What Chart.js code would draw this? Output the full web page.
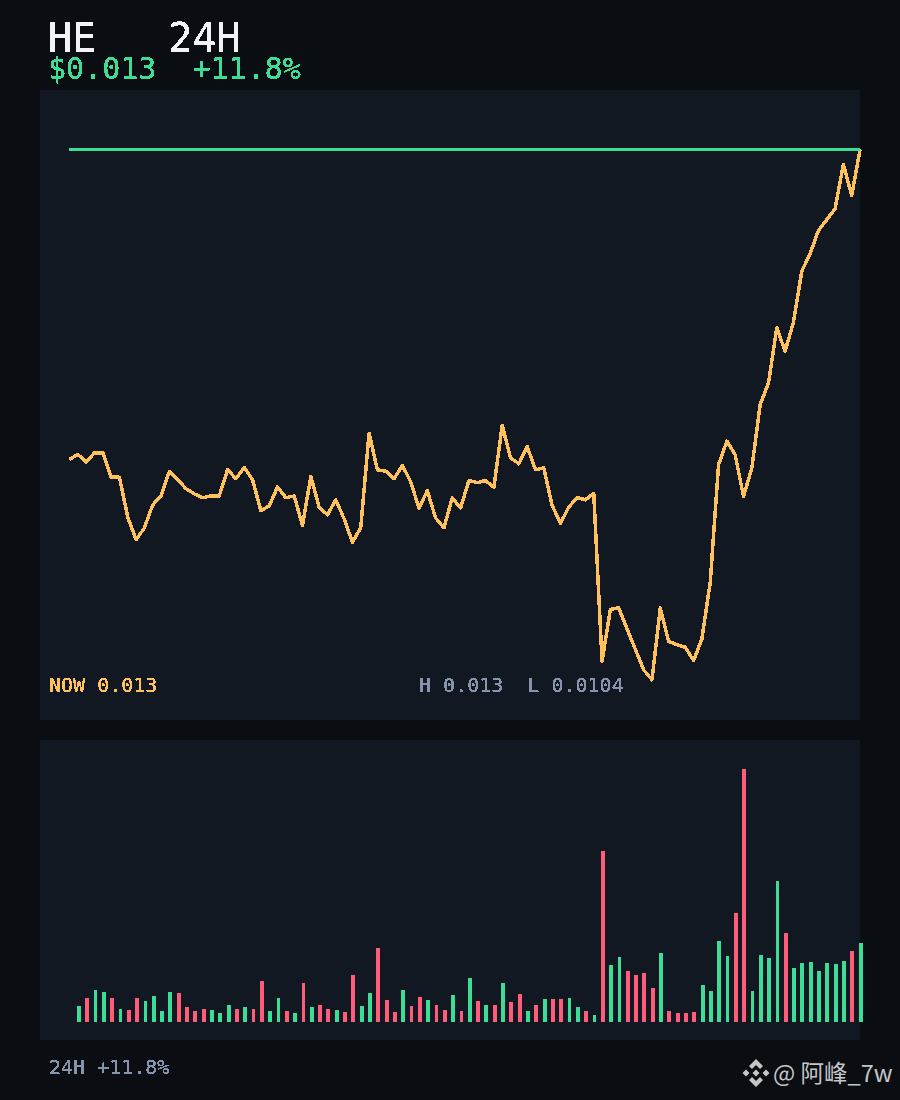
<!DOCTYPE html>
<html>
<head>
<meta charset="utf-8">
<title>HE 24H</title>
<script src="https://cdn.jsdelivr.net/npm/chart.js@4"></script>
<style>
    html, body { margin: 0; padding: 0; background: #0a0d12; }
    #page { position: relative; width: 900px; height: 1100px; overflow: hidden; background: #0a0d12; }
    .panel { position: absolute; left: 40px; width: 820px; background: #111822; }
    .wrap { position: absolute; left: 40px; width: 830px; }
    .txt { position: absolute; margin: 0; white-space: pre; font-family: "DejaVu Sans Mono", monospace; filter: url(#crispBold); }
    #watermark { position: absolute; left: 773px; top: 1055px; font: 23.500px "Noto Sans CJK SC", "Noto Sans", sans-serif; color: #c4c6c8; white-space: pre; }
</style>
</head>
<body>
<svg width="0" height="0" style="position:absolute">
    <filter id="crisp" color-interpolation-filters="sRGB" x="0" y="0" width="100%" height="100%">
        <feComponentTransfer><feFuncA type="discrete" tableValues="0 1"/></feComponentTransfer>
    </filter>
    <filter id="crispBold" color-interpolation-filters="sRGB" x="0" y="0" width="100%" height="100%">
        <feComponentTransfer><feFuncA type="discrete" tableValues="0 1 1 1"/></feComponentTransfer>
    </filter>
</svg>
<div id="page">
    <div class="txt" style="left:48px;top:15px;font-size:40px;line-height:47px;color:#f1f3f7">HE   24H</div>
    <div class="txt" style="left:48px;top:51px;font-size:30px;line-height:35px;color:#3ddc97">$0.013  +11.8%</div>

    <div class="panel" style="top:90px;height:630px"></div>
    <div class="panel" style="top:740px;height:300px"></div>

    <div class="wrap" style="top:90px;height:630px;filter:url(#crispBold)"><canvas id="priceChart"></canvas></div>
    <div class="wrap" style="top:740px;height:300px;filter:url(#crisp)"><canvas id="volumeChart"></canvas></div>

    <div class="txt" style="left:49px;top:673px;font-size:20px;line-height:24px;color:#ffc15e">NOW 0.013</div>
    <div class="txt" style="left:419px;top:673px;font-size:20px;line-height:24px;color:#8694ad">H 0.013  L 0.0104</div>
    <div class="txt" style="left:49px;top:1055px;font-size:20px;line-height:24px;color:#8694ad">24H +11.8%</div>

    <svg style="position:absolute;left:742px;top:1059px" width="28" height="28" viewBox="0 0 28 28" fill="#c4c6c8">
        <path d="M14 0l7 7-3 3-4-4-4 4-3-3zM14 28l7-7-3-3-4 4-4-4-3 3zM4 10.500l3.500 3.500L4 17.500.5 14zM24 10.500l3.500 3.500-3.500 3.500-3.500-3.500zM14 10.500l3.500 3.500-3.500 3.500-3.500-3.500z"/>
    </svg>
    <div id="watermark">@ 阿峰_7w</div>
</div>

<script>
// =============================
// DATA (15 min candles)
// =============================
const high = 0.013;
const low = 0.0104;

const prices = [
    0.011482, 0.011508, 0.011469, 0.011515, 0.011515, 0.011395, 0.011395, 0.011200,
    0.011089, 0.011148, 0.011260, 0.011304, 0.011423, 0.011384, 0.011339, 0.011314,
    0.011295, 0.011304, 0.011304, 0.011433, 0.011388, 0.011443, 0.011383, 0.011231,
    0.011255, 0.011348, 0.011295, 0.011304, 0.011159, 0.011399, 0.011249, 0.011211,
    0.011285, 0.011192, 0.011077, 0.011148, 0.011611, 0.011432, 0.011425, 0.011388,
    0.011453, 0.011374, 0.011244, 0.011330, 0.011195, 0.011148, 0.011295, 0.011244,
    0.011379, 0.011369, 0.011379, 0.011346, 0.011649, 0.011490, 0.011461, 0.011546,
    0.011432, 0.011441, 0.011257, 0.011170, 0.011249, 0.011295, 0.011285, 0.011317,
    0.010495, 0.010748, 0.010756, 0.010653, 0.010553, 0.010452, 0.010403, 0.010756,
    0.010592, 0.010576, 0.010563, 0.010498, 0.010604, 0.010881, 0.011456, 0.011572,
    0.011505, 0.011301, 0.011440, 0.011751, 0.011856, 0.012127, 0.012012, 0.012154,
    0.012404, 0.012489, 0.012603, 0.012656, 0.012710, 0.012927, 0.012775, 0.013000
];

const volumes = [
    0, 16, 24, 32, 30, 24, 13, 12,
    24, 21, 26, 11, 30, 29, 15, 11,
    13, 12, 9, 17, 13, 15, 13, 41,
    11, 24, 11, 9, 39, 15, 17, 13,
    12, 10, 47, 16, 29, 74, 22, 10,
    32, 16, 25, 22, 17, 12, 27, 11,
    44, 21, 17, 17, 39, 20, 28, 11,
    17, 23, 23, 23, 24, 15, 11, 7,
    171, 57, 65, 51, 47, 49, 34, 69,
    11, 9, 9, 10, 37, 31, 81, 66,
    109, 253, 31, 67, 64, 141, 89, 54,
    59, 60, 51, 59, 58, 61, 71, 79
];

const GREEN = "#3ddc97";
const RED = "#ff5c7a";
const ORANGE = "#ffc15e";

// =============================
// SHARED OPTIONS
// =============================
const hiddenAxis = { display: false, grid: { display: false } };

function commonOptions(padding, yMin, yMax) {
    return {
        responsive: true,
        maintainAspectRatio: false,
        animation: false,
        layout: { padding },
        plugins: { legend: { display: false }, tooltip: { enabled: false } },
        scales: {
            x: { ...hiddenAxis, type: "linear", min: 0, max: prices.length - 1, offset: false },
            y: { ...hiddenAxis, min: yMin, max: yMax }
        }
    };
}

// =============================
// PRICE CHART
// =============================
new Chart(document.getElementById("priceChart"), {
    type: "line",
    data: {
        datasets: [
            {
                data: [{ x: 0, y: high }, { x: prices.length - 1, y: high }],
                borderColor: GREEN,
                borderWidth: 3,
                pointRadius: 0,
                clip: false
            },
            {
                data: prices.map((p, i) => ({ x: i, y: p })),
                borderColor: ORANGE,
                borderWidth: 3,
                borderJoinStyle: "round",
                pointRadius: 0,
                tension: 0,
                clip: false
            }
        ]
    },
    options: commonOptions({ left: 29.5, right: 10, top: 59.5, bottom: 39.5 }, low, high)
});

// =============================
// VOLUME CHART
// =============================
new Chart(document.getElementById("volumeChart"), {
    type: "bar",
    data: {
        datasets: [{
            data: volumes.map((v, i) => ({ x: i, y: v })),
            backgroundColor: prices.map((p, i) => (i > 0 && p < prices[i - 1] ? RED : GREEN)),
            barThickness: 3.2,
            clip: false
        }]
    },
    options: commonOptions({ left: 30.6, right: 9.4, top: 29, bottom: 18 }, 0, Math.max(...volumes))
});
</script>
</body>
</html>
